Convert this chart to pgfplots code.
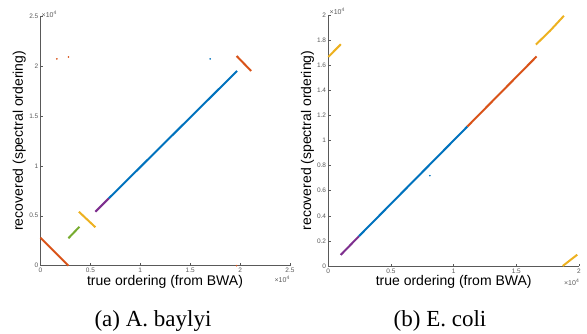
\documentclass[border=0pt]{standalone}
\usepackage{pgfplots}
\pgfplotsset{compat=1.18}
\usepackage{fontspec}
\setmainfont{Liberation Sans}
\newfontfamily\capfont{Liberation Serif}
\definecolor{mblue}{RGB}{0,114,189}
\definecolor{mred}{RGB}{217,83,25}
\definecolor{myellow}{RGB}{237,177,32}
\definecolor{mpurple}{RGB}{126,47,142}
\definecolor{mgreen}{RGB}{119,172,48}
\pgfplotsset{
  mystyle/.style={
    scale only axis,
    axis x line*=bottom, axis y line*=left,
    axis line style={-, black!65, line width=0.7pt},
    tick align=inside, major tick length=2.5pt,
    tick style={black!65, line width=0.5pt},
    scaled ticks=false,
    /pgf/number format/assume math mode=true,
    ticklabel style={font=\fontsize{6.5}{7}\selectfont, text=black!65},
    xticklabel style={anchor=north, inner sep=0pt, yshift=-2.5pt},
    yticklabel style={anchor=east, inner sep=0pt, xshift=-2pt},
    clip=false,
  },
  seg/.style={no marks, line width=2.0pt},
  dot/.style={only marks, mark=*, mark size=0.6pt},
}
\newcommand{\xten}{×10\raisebox{3pt}{\fontsize{5}{5}\selectfont 4}}
\begin{document}
\begin{tikzpicture}[x=1pt,y=1pt]
\useasboundingbox (0,0) rectangle (587,333);
% left axis
\begin{axis}[mystyle, at={(40.5pt,67.3pt)}, anchor=south west,
  width=249.5pt, height=249.7pt,
  xmin=0, xmax=2.5, ymin=0, ymax=2.5,
  xtick={0,0.5,1,1.5,2,2.5}, ytick={0,0.5,1,1.5,2,2.5}]
\addplot[seg, mred] coordinates {(0,0.28) (0.28,0)};
\addplot[seg, mgreen] coordinates {(0.28,0.275) (0.39,0.39)};
\addplot[seg, myellow] coordinates {(0.385,0.54) (0.55,0.385)};
\addplot[seg, mpurple] coordinates {(0.55,0.54) (0.685,0.675)};
\addplot[seg, mblue] coordinates {(0.685,0.675) (1.97,1.95)};
\addplot[seg, mred] coordinates {(1.965,2.10) (2.11,1.95)};
\addplot[dot, mred] coordinates {(0.164,2.07) (0.28,2.09) (1.965,0.0)};
\addplot[dot, mblue] coordinates {(1.70,2.07)};
\end{axis}
% right axis
\begin{axis}[mystyle, at={(328.3pt,67pt)}, anchor=south west,
  width=250.7pt, height=251pt,
  xmin=0, xmax=2, ymin=0, ymax=2,
  xtick={0,0.5,1,1.5,2}, ytick={0,0.2,0.4,0.6,0.8,1,1.2,1.4,1.6,1.8,2}]
\addplot[seg, myellow] coordinates {(0,1.666) (0.10,1.767)};
\addplot[seg, mpurple] coordinates {(0.099,0.088) (0.245,0.238)};
\addplot[seg, mblue] coordinates {(0.245,0.238) (1.11,1.112)};
\addplot[seg, mred] coordinates {(1.11,1.112) (1.662,1.67)};
\addplot[seg, myellow] coordinates {(1.656,1.764) (1.77,1.875) (1.88,1.994)};
\addplot[seg, myellow] coordinates {(1.87,0) (1.986,0.09)};
\addplot[dot, mblue] coordinates {(0.81,0.72)};
\end{axis}
% labels
\node[rotate=90, anchor=base, font=\fontsize{14}{16}\selectfont] at (23,192.2) {recovered (spectral ordering)};
\node[rotate=90, anchor=base, font=\fontsize{14}{16}\selectfont] at (311,192.5) {recovered (spectral ordering)};
\node[anchor=base, font=\fontsize{14}{16}\selectfont] at (165,48) {true ordering (from BWA)};
\node[anchor=base, font=\fontsize{14}{16}\selectfont] at (453.7,48) {true ordering (from BWA)};
\node[anchor=base west, inner sep=0pt, font=\fontsize{7}{8}\selectfont, text=black!65] at (41.5,316) {\xten};
\node[anchor=base west, inner sep=0pt, font=\fontsize{7}{8}\selectfont, text=black!65] at (329.5,318) {\xten};
\node[anchor=base east, inner sep=0pt, font=\fontsize{7}{8}\selectfont, text=black!65] at (289.5,51) {\xten};
\node[anchor=base east, inner sep=0pt, font=\fontsize{7}{8}\selectfont, text=black!65] at (579,48) {\xten};
\node[anchor=base, inner sep=0pt, font=\capfont\fontsize{23}{26}\selectfont] at (153,6.3) {(a) A. baylyi};
\node[anchor=base, inner sep=0pt, font=\capfont\fontsize{23}{26}\selectfont] at (440,6.3) {(b) E. coli};
\end{tikzpicture}
\end{document}
